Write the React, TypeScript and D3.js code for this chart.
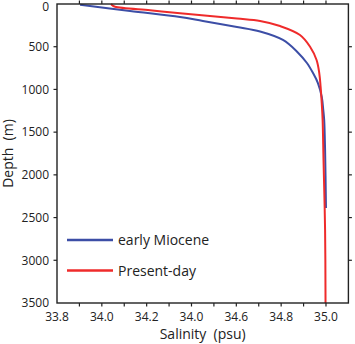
import React from "react";
import * as d3 from "d3";

const miocene: [number, number][] = [
  [33.903, 8], [34.126, 82], [34.349, 152], [34.451, 199], [34.603, 269],
  [34.706, 322], [34.808, 421], [34.871, 558], [34.915, 691], [34.942, 808],
  [34.964, 925], [34.981, 1085], [34.988, 1241], [34.992, 1358], [34.996, 1709],
  [35.0, 2388],
];

const presentDay: [number, number][] = [
  [34.041, 0], [34.048, 18], [34.059, 32], [34.215, 74], [34.349, 108],
  [34.603, 170], [34.706, 199], [34.795, 258], [34.884, 363], [34.929, 500],
  [34.958, 655], [34.970, 808], [34.976, 968], [34.981, 1159], [34.985, 1358],
  [34.989, 1826], [34.996, 2646], [34.998, 3500],
];

const xTickValues = [33.8, 34.0, 34.2, 34.4, 34.6, 34.8, 35.0];
const xTickLabels = ["33.8", "34.0", "34.2", "34.0", "34.6", "34.8", "35.0"];
const xMinorTicks = [33.9, 34.0, 34.1, 34.2, 34.3, 34.4, 34.5, 34.6, 34.7, 34.8, 34.9, 35.0];
const yTickValues = [0, 500, 1000, 1500, 2000, 2500, 3000, 3500];

const seriesNames = ["early Miocene", "Present-day"];
const seriesColors = ["#3c4ea6", "#ef2b2b"];

export default function App() {
  const W = 355, H = 344;
  const left = 57, right = 348.4, top = 4, bottom = 303;
  const x = d3.scaleLinear().domain([33.8, 35.1]).range([left, right]);
  const y = d3.scaleLinear().domain([0, 3500]).range([top, bottom]);
  const line = d3
    .line<[number, number]>()
    .x((d) => x(d[0]))
    .y((d) => y(d[1]))
    .curve(d3.curveCatmullRom.alpha(0.5));
  const font = "'Open Sans', 'Noto Sans', sans-serif";
  const axisColor = "#222";
  const tl = 3.5;

  return (
    <svg width={W} height={H} style={{ position: "absolute", left: 0, top: 0 }} fontFamily={font}>
      <rect x={0} y={0} width={W} height={H} fill="#fff" />
      <path d={line(miocene) || ""} fill="none" stroke={seriesColors[0]} strokeWidth={2} />
      <path d={line(presentDay) || ""} fill="none" stroke={seriesColors[1]} strokeWidth={2} />
      <rect x={left} y={top} width={right - left} height={bottom - top} fill="none" stroke={axisColor} strokeWidth={1.4} />
      {xMinorTicks.map((v) => (
        <g key={"xt" + v}>
          <line x1={x(v)} x2={x(v)} y1={top} y2={top - tl} stroke={axisColor} strokeWidth={1.2} />
          <line x1={x(v)} x2={x(v)} y1={bottom} y2={bottom + tl} stroke={axisColor} strokeWidth={1.2} />
        </g>
      ))}
      {yTickValues.slice(1, -1).map((v) => (
        <g key={"yt" + v}>
          <line x1={left} x2={left - tl} y1={y(v)} y2={y(v)} stroke={axisColor} strokeWidth={1.2} />
          <line x1={right} x2={right + tl} y1={y(v)} y2={y(v)} stroke={axisColor} strokeWidth={1.2} />
        </g>
      ))}
      {xTickValues.map((v, i) => (
        <text key={"xl" + i} x={x(v)} y={321} textAnchor="middle" fontSize={12} fill="#222">
          {xTickLabels[i]}
        </text>
      ))}
      {yTickValues.map((v) => (
        <text
          key={"yl" + v}
          x={49}
          y={y(v) + (v === 0 ? 2.5 : 0)}
          dy="0.36em"
          textAnchor="end"
          fontSize={12}
          fill="#222"
        >
          {String(v)}
        </text>
      ))}
      <text x={(left + right) / 2} y={339} textAnchor="middle" fontSize={14} fill="#222" style={{ whiteSpace: "pre" }}>
        {"Salinity  (psu)"}
      </text>
      <text
        transform={`translate(12.5,${(top + bottom) / 2}) rotate(-90)`}
        textAnchor="middle"
        fontSize={14}
        fill="#222"
        style={{ whiteSpace: "pre" }}
      >
        {"Depth  (m)"}
      </text>
      {seriesNames.map((name, i) => (
        <g key={name} transform={`translate(0,${240 + i * 30.5})`}>
          <line x1={67} x2={113} y1={0} y2={0} stroke={seriesColors[i]} strokeWidth={2.5} />
          <text x={118} y={0} dy="0.36em" fontSize={14} fill="#222">
            {name}
          </text>
        </g>
      ))}
    </svg>
  );
}
